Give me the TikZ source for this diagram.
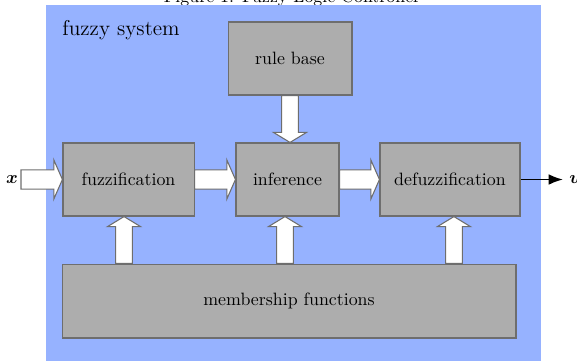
\documentclass[tikz,border=0pt]{standalone}
\usepackage{amsmath,amssymb}
\usepackage{bm}
\usepackage{xcolor}
\usetikzlibrary{calc,arrows.meta}

\definecolor{sysblue}{RGB}{150,178,255}
\definecolor{blockgray}{RGB}{173,173,173}
\definecolor{edgegray}{RGB}{110,110,110}

% hollow block arrow: #1 from, #2 to, #3 half shaft, #4 half head, #5 head length
\newcommand{\fatarrow}[5]{%
  \draw[fat] let \p1=(#1), \p2=(#2), \n1={atan2(\y2-\y1,\x2-\x1)} in
    ($(\p1)+(\n1+90:#3)$) -- ($(\p2)+(\n1+180:#5)+(\n1+90:#3)$)
    -- ($(\p2)+(\n1+180:#5)+(\n1+90:#4)$) -- (\p2)
    -- ($(\p2)+(\n1+180:#5)+(\n1-90:#4)$) -- ($(\p2)+(\n1+180:#5)+(\n1-90:#3)$)
    -- ($(\p1)+(\n1-90:#3)$) -- cycle;}
\newcommand{\harrow}[2]{\fatarrow{#1}{#2}{5.4pt}{10.9pt}{4.8pt}}
\newcommand{\varrow}[2]{\fatarrow{#1}{#2}{4.7pt}{9.2pt}{5.6pt}}

\begin{document}
\begin{tikzpicture}[x=0.56pt, y=-0.56pt,
                    every node/.style={font=\normalsize},
                    block/.style={draw=edgegray, fill=blockgray, line width=0.6pt,
                                  minimum height=40.9pt, inner sep=0pt},
                    fat/.style={draw=edgegray, fill=white, line width=0.6pt},
                    outarrow/.style={line width=1pt, -{Latex[length=8pt,width=6pt]}}]
  \useasboundingbox (0,0) rectangle (577,360);
  % caption, cut off at the top
  \node[anchor=base] (caption) at (292,2.5) {Figure 1: Fuzzy Logic Controller};
  % system frame
  \fill[sysblue] (46,5) rectangle (541,370);
  \node[anchor=base west, font=\large, inner sep=0pt] (syslabel) at (62,35) {fuzzy system};
  % blocks
  \node[block, minimum width=69.4pt] (rule) at (290,58.5)  {rule base};
  \node[block, minimum width=73.4pt] (fuzz) at (128.5,179.5) {fuzzification};
  \node[block, minimum width=57.7pt] (infer) at (287.5,179.5) {inference};
  \node[block, minimum width=78.4pt] (defuzz) at (450,179.5) {defuzzification};
  \node[block, minimum width=254.2pt, minimum height=41.4pt] (member) at (289,301) {membership functions};
  % input and output
  \node[inner sep=0pt] (xin) at (12,180) {$\bm{x}$};
  \coordinate (xstart) at (21,179.5);
  \coordinate (uend) at (563,179.5);
  \node[anchor=west, inner sep=0pt] (uout) at (569,180) {$\bm{u}$};
  % signal flow
  \harrow{xstart}{fuzz.west}
  \harrow{fuzz.east}{infer.west}
  \harrow{infer.east}{defuzz.west}
  \draw[outarrow] (defuzz.east) -- (uend);
  \varrow{rule.south}{rule.south |- infer.north}
  % membership feeds
  \coordinate (fuzzfeed) at ([xshift=-2.5pt]fuzz.south);
  \coordinate (inferfeed) at ([xshift=-1.4pt]infer.south);
  \coordinate (defuzzfeed) at ([xshift=2.2pt]defuzz.south);
  \varrow{fuzzfeed |- member.north}{fuzzfeed}
  \varrow{inferfeed |- member.north}{inferfeed}
  \varrow{defuzzfeed |- member.north}{defuzzfeed}
\end{tikzpicture}
\end{document}
